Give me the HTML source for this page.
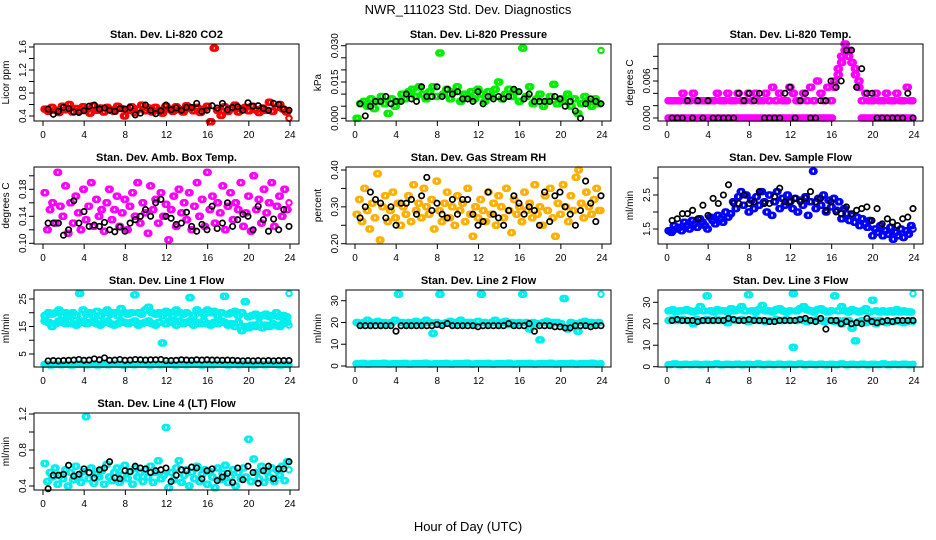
<!DOCTYPE html>
<html><head><meta charset="utf-8">
<style>
html,body{margin:0;padding:0;background:#fff;}
svg{display:block;font-family:"Liberation Sans",Arial,sans-serif;}
</style></head>
<body>
<svg id="c" width="936" height="540" viewBox="0 0 936 540" xmlns="http://www.w3.org/2000/svg">
<text x="468" y="14" text-anchor="middle" font-size="13">NWR_111023  Std. Dev. Diagnostics</text>
<text x="468" y="531" text-anchor="middle" font-size="13">Hour of Day (UTC)</text>
</svg>
<script>
const hourTicks=[0,4,8,12,16,20,24];
const co2Color=[0.52,0.48,0.55,0.50,0.46,0.57,0.51,0.60,0.47,0.53,0.49,0.56,0.52,0.45,0.58,0.50,0.54,0.47,0.55,0.51,0.48,0.57,0.53,0.40,0.50,0.56,0.46,0.52,0.59,0.49,0.54,0.47,0.55,0.50,0.45,0.57,0.52,0.48,0.56,0.51,0.47,0.58,0.53,0.49,0.55,0.46,0.52,0.57,0.30,1.58,0.50,0.41,0.56,0.48,0.53,0.59,0.47,0.52,0.55,0.49,0.57,0.51,0.46,0.54,0.50,0.64,0.48,0.55,0.60,0.52,0.47,0.36];
const co2Black=[0.52,0.43,0.48,0.55,0.53,0.47,0.46,0.49,0.57,0.59,0.52,0.54,0.50,0.48,0.53,0.52,0.55,0.42,0.45,0.59,0.50,0.44,0.49,0.59,0.51,0.54,0.50,0.55,0.55,0.62,0.48,0.50,0.58,0.54,0.62,0.51,0.55,0.56,0.50,0.63,0.57,0.58,0.53,0.50,0.62,0.60,0.52,0.50];
const pressColor=[0.000,0.006,0.007,0.005,0.008,0.004,0.007,0.009,0.006,0.002,0.008,0.005,0.007,0.010,0.008,0.011,0.012,0.009,0.013,0.010,0.008,0.011,0.013,0.009,0.027,0.010,0.012,0.008,0.011,0.013,0.007,0.010,0.009,0.011,0.008,0.012,0.010,0.007,0.011,0.009,0.012,0.015,0.008,0.010,0.012,0.009,0.011,0.007,0.029,0.009,0.013,0.006,0.008,0.010,0.005,0.007,0.009,0.014,0.006,0.008,0.007,0.010,0.005,0.008,0.002,0.006,0.009,0.007,0.005,0.008,0.006,0.028];
const pressBlack=[0.006,0.001,0.005,0.007,0.007,0.009,0.006,0.007,0.007,0.010,0.008,0.007,0.013,0.009,0.009,0.013,0.009,0.012,0.010,0.011,0.008,0.008,0.007,0.011,0.006,0.009,0.008,0.009,0.008,0.009,0.012,0.011,0.008,0.010,0.007,0.007,0.007,0.007,0.009,0.008,0.005,0.007,0.003,0.000,0.006,0.008,0.007,0.006];
const tempColorA=[0,0,0,0,0,0,0,0,0,0,0,0,0,0,0,0,0,0,0,0,0,0,0,0,0,0,0,0,0,0,0,0,0,0,0,0,0,0,0,0,0,0,0,0,0,0,0,0,0.006,0.007,0.009,0.011,0.010,0.009,0.008,0.005,0,0,0,0,0,0,0,0,0,0,0,0,0,0,0,0];
const tempColorB=[0.0028,0.0028,0.0028,0.0028,0.004,0.0028,0.0028,0.004,0.0028,0.0028,0.0028,0.0028,0.0028,0.0028,0.004,0.0028,0.0028,0.004,0.0028,0.0028,0.004,0.0028,0.0028,0.004,0.0028,0.004,0.0028,0.0028,0.004,0.0028,0.005,0.0028,0.004,0.0028,0.0028,0.005,0.004,0.0028,0.0028,0.004,0.0028,0.005,0.0028,0.006,0.004,0.0028,0.005,0.0028,0.005,0.008,0.010,0.012,0.011,0.009,0.007,0.006,0.0028,0.004,0.0028,0.0028,0.004,0.0028,0.0028,0.004,0.0028,0.0028,0.004,0.0028,0.0028,0.005,0.0028,0.0028];
const tempBlack=[0,0,0,0.0028,0,0.0028,0,0.0028,0,0,0,0,0,0.004,0.0028,0.004,0.0028,0.004,0,0,0,0,0.004,0.005,0,0.0028,0.004,0,0,0.0028,0.0028,0.006,0.005,0.006,0.011,0.011,0.005,0.008,0.004,0.004,0,0,0,0,0,0,0.004,0];
const boxColor=[0.175,0.12,0.15,0.16,0.13,0.205,0.155,0.14,0.185,0.115,0.16,0.13,0.17,0.145,0.12,0.18,0.135,0.155,0.19,0.125,0.165,0.14,0.15,0.118,0.16,0.18,0.135,0.15,0.17,0.125,0.145,0.165,0.12,0.155,0.175,0.14,0.19,0.13,0.16,0.145,0.115,0.185,0.15,0.165,0.13,0.175,0.14,0.158,0.105,0.15,0.17,0.125,0.18,0.145,0.16,0.135,0.175,0.12,0.155,0.19,0.14,0.165,0.125,0.205,0.15,0.17,0.13,0.16,0.145,0.185,0.12,0.155,0.175,0.135,0.16,0.15,0.19,0.125,0.145,0.17,0.118,0.2,0.15,0.165,0.13,0.18,0.145,0.16,0.19,0.125,0.155,0.17,0.14,0.18,0.15,0.16];
const boxBlack=[0.13,0.13,0.13,0.112,0.12,0.163,0.13,0.147,0.125,0.127,0.125,0.131,0.12,0.117,0.124,0.118,0.13,0.135,0.14,0.15,0.14,0.16,0.165,0.14,0.137,0.128,0.13,0.146,0.125,0.118,0.128,0.12,0.155,0.122,0.13,0.16,0.125,0.135,0.143,0.14,0.12,0.155,0.135,0.118,0.136,0.12,0.15,0.125];
const rhColor=[0.28,0.32,0.26,0.35,0.29,0.24,0.31,0.27,0.39,0.21,0.30,0.33,0.26,0.29,0.34,0.27,0.31,0.25,0.30,0.28,0.33,0.26,0.36,0.29,0.31,0.27,0.35,0.30,0.28,0.32,0.24,0.37,0.29,0.26,0.31,0.34,0.27,0.30,0.25,0.33,0.29,0.31,0.26,0.35,0.28,0.22,0.30,0.27,0.32,0.29,0.26,0.34,0.28,0.31,0.25,0.33,0.30,0.27,0.35,0.29,0.23,0.32,0.28,0.30,0.26,0.34,0.29,0.31,0.27,0.36,0.28,0.30,0.25,0.33,0.29,0.35,0.27,0.22,0.31,0.28,0.36,0.30,0.26,0.33,0.29,0.38,0.40,0.31,0.27,0.34,0.30,0.28,0.32,0.35,0.29,0.29];
const rhBlack=[0.27,0.30,0.34,0.32,0.31,0.27,0.30,0.25,0.31,0.31,0.32,0.28,0.33,0.38,0.29,0.31,0.28,0.27,0.32,0.28,0.32,0.32,0.28,0.25,0.26,0.34,0.28,0.27,0.25,0.29,0.33,0.31,0.28,0.30,0.29,0.25,0.34,0.26,0.33,0.34,0.30,0.28,0.25,0.29,0.37,0.31,0.26,0.33];
const flowColor=[1.45,1.4,1.6,1.5,1.55,1.45,1.7,1.6,1.5,1.75,1.65,1.55,1.8,1.7,1.6,1.5,1.85,1.75,1.65,1.9,1.8,1.7,2.0,1.85,1.95,2.3,2.1,2.45,2.6,2.2,2.5,2.0,2.35,2.1,2.45,2.2,2.6,2.3,2.0,2.5,1.9,2.3,2.6,2.1,2.4,2.2,2.5,2.3,2.1,2.4,2.0,2.35,2.2,2.45,1.9,2.3,3.2,2.1,2.4,2.2,2.5,2.0,2.35,2.15,2.4,2.05,2.3,1.8,2.1,1.95,1.75,1.9,1.7,1.85,1.6,1.8,1.65,1.55,1.75,1.3,1.5,1.4,1.6,1.3,1.45,1.35,1.55,1.2,1.4,1.3,1.5,1.25,1.45,1.35,1.6,1.5];
const flowBlack=[1.75,1.8,1.95,1.95,2.05,1.8,2.2,1.9,2.4,2.25,2.5,2.8,2.25,2.25,2.5,2.25,2.3,2.6,2.25,2.25,2.45,2.7,2.3,2.3,2.4,2.3,2.4,2.6,2.3,2.4,2.05,2.3,2.0,1.95,2.15,1.95,2.05,2.1,2.15,1.75,2.1,1.65,1.8,1.7,1.6,1.8,1.85,2.1];
const line1Upper=[19,20,19.5,20,21,19,20,19.5,20,19,27,21,19.5,20,19,20.5,19,20,21,19.5,20,19,21.5,20,19.5,20,26.5,20,19.5,21,22,20,19.5,20,19,20.5,20,19,21,20,19.5,20,25.5,19,21,20,19.5,21,20,20.5,19,20,26,19.5,20,20.5,19,20,24,18.5,19,19.5,18.5,19,19.5,18.5,19,20,18.5,19,18.5,27];
const line1Middle=[17,16.5,15,16,17,16.5,16,17,16,15.5,16.5,17,16,16.5,17,16,15.5,16.5,17,16,15.5,16,17,16.5,16,16.5,17,15.5,16,16.5,17,16,15.5,16.5,9,16,17,16.5,15.5,17,16,16.5,17,15.5,16.5,16,17,16,15.5,16.5,16,17,16.5,15.5,16,15,16.5,13.5,15,14.5,15.5,15,16,14.5,15.5,15,16,15.5,15,16,16.5,15.5];
const line1Low=[1.2,1.0,1.3,1.1,1.2,1.0,1.3,1.2,1.1,1.3,1.0,1.2,1.1,1.3,1.2,1.0,1.2,1.1,1.3,1.2,1.0,1.2,1.1,1.3,1.2,1.0,1.2,1.1,1.3,1.2,1.0,1.2,1.1,1.3,1.2,1.0,1.2,1.1,1.3,1.2,1.0,1.2,1.1,1.3,1.2,1.0,1.2,1.1];
const line1Black=[2.5,2.6,2.5,2.6,2.7,2.8,3.0,2.7,2.8,3.2,2.9,3.6,2.7,2.8,3.0,2.7,2.8,3.0,2.9,2.8,2.9,2.9,3.0,2.6,2.6,2.7,2.9,2.8,2.7,2.9,2.8,2.9,2.8,2.8,2.7,2.8,2.7,2.6,2.5,2.6,2.5,2.6,2.5,2.6,2.5,2.6,2.6,2.6];
const line2Upper=[20,19,20,21,19.5,20,20.5,19,20,19.5,20,21,33,20,19.5,20,19,20.5,20,19.5,21,20,15,20,33,19.5,20,20.5,19,20,21,19.5,20,20,19,20.5,33,20,19.5,20,21,19.5,20,20.5,19,20,19.5,20,33,20,17,20,19.5,12,20,20.5,19,20,20,19.5,31,17,20,19.5,16,20,20.5,19,20,19.5,20,33];
const line2Low=[1.0,1.2,0.9,1.1,1.0,1.3,0.9,1.1,1.0,1.2,0.9,1.1,1.0,1.3,0.9,1.1,1.0,1.2,0.9,1.1,1.0,1.3,0.9,1.1,1.0,1.2,0.9,1.1,1.0,1.3,0.9,1.1,1.0,1.2,0.9,1.1,1.0,1.3,0.9,1.1,1.0,1.2,0.9,1.1,1.0,1.3,0.9,1.1];
const line2Black=[18.5,18.5,18.5,18.5,18.5,18.5,18.5,16,18.5,18.5,18.5,18.5,18.5,18.5,18.5,19,18.5,19.5,18.5,18.5,18.5,18.5,18.5,18,18.5,18.5,18.5,18.5,18.5,19.5,18.5,18.5,18.5,19.5,16,18.5,18.5,18.5,18,18,17.5,17.5,18.5,18.5,18.5,18,18.5,18.5];
const line3Upper=[26,26.5,25.5,26,26,26.5,26,25.5,26,28,26,33,26,25.5,26.5,26,26,25.5,27,26,26.5,28,26,33.5,26,25.5,26.5,28.5,26,26,25.5,26.5,27,26,25.5,26,34,26,27,28,26.5,26,25.5,26.5,27,26,25.5,26,33,26,28,26,25.5,26.5,26,25.5,26,27,25.5,31,26,25.5,26,25.5,26,25.5,26.5,25.5,26,25.5,25.5,34];
const line3Middle=[21.5,22,21.5,21.5,22,21.5,21.5,20,22,21.5,21.5,22,21.5,21.5,22,21.5,21.5,20.5,22,21.5,21.5,22,21.5,21,21.5,22,21.5,21.5,21,21.5,21.5,22,21.5,21.5,22,21.5,9,21.5,22,21.5,21,21.5,21.5,22,21.5,21,21.5,21.5,21,21.5,20,21.5,21.5,18,12,21,21.5,20.5,21,21.5,20,21.5,21,20.5,21,21,21.5,21,20.5,21,21.5,21];
const line3Low=[1.0,1.3,0.9,1.1,1.0,1.2,0.9,1.1,1.0,1.3,0.9,1.1,1.0,1.2,0.9,1.1,1.0,1.3,0.9,1.1,1.0,1.2,0.9,1.1,1.0,1.3,0.9,1.1,1.0,1.2,0.9,1.1,1.0,1.3,0.9,1.1,1.0,1.2,0.9,1.1,1.0,1.3,0.9,1.1,1.0,1.2,0.9,1.1];
const line3Black=[21.5,22,21.5,21.5,21.5,21,21.5,21.5,21.5,21.5,21.5,22.5,22,21.5,21.5,22,21.5,21.5,21.5,21,21,21.5,21.5,21.5,21.5,22,22.5,21.5,21,22.5,17.5,21.5,21.5,20,21,20,20.5,20,22.5,21,20.5,21,21.5,21,21.5,21.5,21.5,21.5];
const line4Color=[0.65,0.45,0.55,0.5,0.6,0.42,0.52,0.48,0.58,0.4,0.55,0.47,0.62,0.5,0.44,0.56,1.17,0.48,0.6,0.43,0.53,0.5,0.57,0.42,0.64,0.5,0.46,0.55,0.6,0.44,0.52,0.63,0.48,0.56,0.42,0.6,0.5,0.55,0.45,0.58,0.5,0.62,0.44,0.55,0.68,0.48,0.52,1.05,0.38,0.55,0.47,0.6,0.68,0.44,0.52,0.58,0.4,0.55,0.48,0.62,0.45,0.53,0.58,0.42,0.56,0.5,0.38,0.6,0.47,0.54,0.63,0.44,0.5,0.58,0.4,0.55,0.48,0.6,0.5,0.92,0.45,0.7,0.55,0.48,0.62,0.44,0.56,0.5,0.6,0.45,0.58,0.52,0.62,0.46,0.67,0.58];
const line4Black=[0.37,0.52,0.52,0.53,0.63,0.51,0.53,0.59,0.55,0.49,0.58,0.6,0.67,0.49,0.48,0.57,0.56,0.62,0.6,0.59,0.55,0.57,0.58,0.6,0.45,0.52,0.58,0.57,0.61,0.6,0.48,0.57,0.59,0.46,0.5,0.54,0.44,0.6,0.47,0.62,0.55,0.43,0.57,0.62,0.48,0.59,0.59,0.67];

const NS='http://www.w3.org/2000/svg';
const svg=document.getElementById('c');
const colX=[34,346,658], rowY=[44,167,290,413], W=265, H=77;
function mk(tag,attrs,parent){const e=document.createElementNS(NS,tag);for(const k in attrs)e.setAttribute(k,attrs[k]);(parent||svg).appendChild(e);return e;}

const panels=[
 {key:'co2',title:'Stan. Dev. Li-820 CO2',ylab:'Licor ppm',c:0,r:0,v0:0.4,p0:116,v1:1.6,p1:47,ticks:[0.4,0.6,0.8,1.0,1.2,1.4,1.6],labels:['0.4','0.8','1.2','1.6'],series:[[co2Color,'#ff0000'],[co2Black,'#000']]},
 {key:'pressure',title:'Stan. Dev. Li-820 Pressure',ylab:'kPa',c:1,r:0,v0:0,p0:118.3,v1:0.03,p1:45.7,ticks:[0,0.005,0.01,0.015,0.02,0.025,0.03],labels:['0.000','0.015','0.030'],series:[[pressColor,'#00ee00'],[pressBlack,'#000']]},
 {key:'licor-temp',title:'Stan. Dev. Li-820 Temp.',ylab:'degrees C',c:2,r:0,v0:0,p0:118,v1:0.006,p1:81,ticks:[0,0.002,0.004,0.006,0.008,0.010],labels:['0.000','0.006'],series:[[tempColorA,'#ff00ff'],[tempColorB,'#ff00ff'],[tempBlack,'#000']]},
 {key:'box-temp',title:'Stan. Dev. Amb. Box Temp.',ylab:'degrees C',c:0,r:1,v0:0.10,p0:243.3,v1:0.18,p1:189.3,ticks:[0.10,0.12,0.14,0.16,0.18,0.20],labels:['0.10','0.14','0.18'],series:[[boxColor,'#ff00ff'],[boxBlack,'#000']]},
 {key:'rh',title:'Stan. Dev. Gas Stream RH',ylab:'percent',c:1,r:1,v0:0.20,p0:243.7,v1:0.40,p1:170,ticks:[0.20,0.25,0.30,0.35,0.40],labels:['0.20','0.30','0.40'],series:[[rhColor,'#ffb000'],[rhBlack,'#000']]},
 {key:'sample-flow',title:'Stan. Dev. Sample Flow',ylab:'ml/min',c:2,r:1,v0:1.5,p0:229,v1:2.5,p1:195,ticks:[1.5,2.0,2.5,3.0],labels:['1.5','2.5'],series:[[flowColor,'#0000ff'],[flowBlack,'#000']]},
 {key:'line1',title:'Stan. Dev. Line 1 Flow',ylab:'ml/min',c:0,r:2,v0:5,p0:354,v1:25,p1:299,ticks:[5,10,15,20,25],labels:['5','15','25'],series:[[line1Upper,'#00eeee'],[line1Middle,'#00eeee'],[line1Low,'#00eeee'],[line1Black,'#000']]},
 {key:'line2',title:'Stan. Dev. Line 2 Flow',ylab:'ml/min',c:1,r:2,v0:0,p0:366,v1:30,p1:300.7,ticks:[0,10,20,30],labels:['0','10','20','30'],series:[[line2Upper,'#00eeee'],[line2Low,'#00eeee'],[line2Black,'#000']]},
 {key:'line3',title:'Stan. Dev. Line 3 Flow',ylab:'ml/min',c:2,r:2,v0:0,p0:366.7,v1:30,p1:302.3,ticks:[0,10,20,30],labels:['0','10','20','30'],series:[[line3Upper,'#00eeee'],[line3Middle,'#00eeee'],[line3Low,'#00eeee'],[line3Black,'#000']]},
 {key:'line4',title:'Stan. Dev. Line 4 (LT) Flow',ylab:'ml/min',c:0,r:3,v0:0.4,p0:486,v1:1.2,p1:414,ticks:[0.4,0.6,0.8,1.0,1.2],labels:['0.4','0.8','1.2'],series:[[line4Color,'#00eeee'],[line4Black,'#000']]}
];

panels.forEach(p=>{
  const L=colX[p.c], T=rowY[p.r];
  const g=mk('g',{});
  
  
  const xs=h=>L+9+h*(W-18)/24;
  const ys=v=>p.p0+(v-p.v0)*(p.p1-p.p0)/(p.v1-p.v0);
  const t=mk('text',{x:L+W/2,y:T-6,'text-anchor':'middle','font-size':'11','font-weight':'bold'},g);
  t.textContent=p.title;
  
  
  const yl=mk('text',{x:0,y:0,'text-anchor':'middle','font-size':'10',transform:`translate(${L-25},${T+H/2}) rotate(-90)`},g);
  yl.textContent=p.ylab;
  
  
  const pts=mk('g',{fill:'none'},g);
  
  
  p.series.forEach(([arr,col])=>{
    const n=arr.length;
    const black = col==='#000';
    const step = 23.8/(n-1);
    arr.forEach((v,i)=>{
      const hr = black ? 0.5+i*23.4/(n-1) : 0.1+i*step;
      const y=ys(v); if(y<T-2||y>T+H+2) return;
      const reps = black ? [0] : (i<n-1 ? [0, step/3, 2*step/3] : [0]);
      reps.forEach(d=>{
        const c=mk('circle',{cx:xs(hr+d).toFixed(1),cy:y.toFixed(1),r:2.7,stroke:col,'stroke-width':black?1.7:2.1},pts);
        
        
      });
    });
  });
  const b=mk('rect',{x:L,y:T,width:W,height:H,fill:'none',stroke:'#000','stroke-width':1},g);
  
  
  const xa=mk('g',{},g);
  
  
  mk('line',{x1:xs(0),x2:xs(24),y1:T+H,y2:T+H,stroke:'#000'},xa);
  hourTicks.forEach(h=>{
    mk('line',{x1:xs(h),x2:xs(h),y1:T+H,y2:T+H+5,stroke:'#000'},xa);
    const tl=mk('text',{x:xs(h),y:T+H+17,'text-anchor':'middle','font-size':'10'},xa);
    tl.textContent=String(h);
    
    
  });
  const ya=mk('g',{},g);
  
  
  mk('line',{x1:L,x2:L,y1:ys(p.ticks[0]),y2:ys(p.ticks[p.ticks.length-1]),stroke:'#000'},ya);
  p.ticks.forEach(v=>{
    mk('line',{x1:L-5,x2:L,y1:ys(v),y2:ys(v),stroke:'#000'},ya);
  });
  p.labels.forEach(s=>{
    const v=parseFloat(s);
    const tl=mk('text',{x:0,y:0,'text-anchor':'middle','font-size':'10',transform:`translate(${L-8},${ys(v)}) rotate(-90)`},ya);
    tl.textContent=s;
    
    
  });
});
</script>
</body></html>
